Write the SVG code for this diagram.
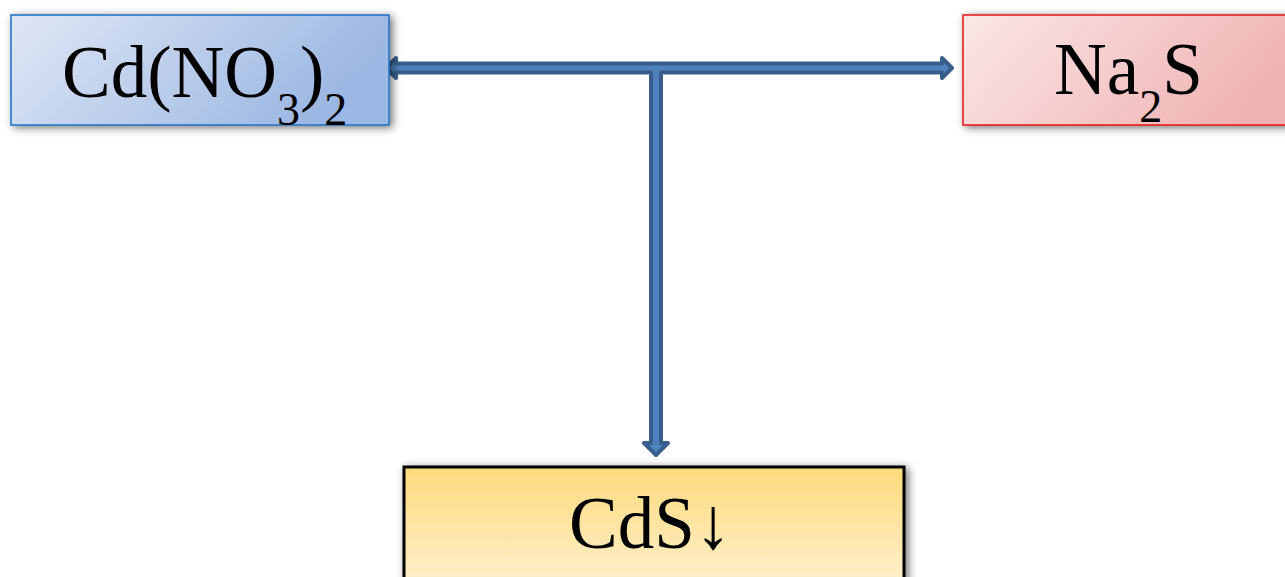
<svg xmlns="http://www.w3.org/2000/svg" width="1285" height="577" viewBox="0 0 1285 577">
<style>
.lbl{font-family:"Liberation Serif","Times New Roman",serif;font-size:73px;fill:#000}
.sub{font-size:46px}
.box{filter:url(#sh)}
</style>
<defs>
<filter id="sh" x="-10%" y="-20%" width="125%" height="150%">
<feDropShadow dx="3" dy="2" stdDeviation="4" flood-color="#000" flood-opacity="0.55"/>
</filter>
<linearGradient id="gBlue" x1="0" y1="0" x2="1" y2="0.3">
<stop offset="0" stop-color="#dfe7f5"/><stop offset="1" stop-color="#9cb7e3"/>
</linearGradient>
<linearGradient id="gRed" x1="0" y1="0" x2="1" y2="0.3">
<stop offset="0" stop-color="#fbe7e7"/><stop offset="1" stop-color="#f0b3b3"/>
</linearGradient>
<linearGradient id="gYel" x1="0" y1="0" x2="0" y2="1">
<stop offset="0" stop-color="#fdda7c"/><stop offset="1" stop-color="#fef2d4"/>
</linearGradient>
</defs>
<g id="connectors">
<path d="M386,68 L396,58 L396,63.5 L942,63.5 L942,58 L952,68 L942,78 L942,72.5 L661,72.5 L661,443 L668,443 L656,455 L644,443 L651,443 L651,72.5 L396,72.5 L396,78 Z" fill="#4f81bd" stroke="#3a5e8c" stroke-width="4" stroke-linejoin="round"/>
</g>
<g id="node-cdno3">
<rect class="box" x="11" y="15" width="378" height="110" fill="url(#gBlue)" stroke="#1a6fc4" stroke-width="1.5"/>
<text class="lbl" x="62" y="97">Cd(NO<tspan class="sub" dy="28">3</tspan><tspan dy="-28">)</tspan><tspan class="sub" dy="28">2</tspan></text>
</g>
<g id="node-na2s">
<rect class="box" x="963" y="15" width="340" height="110" fill="url(#gRed)" stroke="#e81414" stroke-width="1.5"/>
<text class="lbl" x="1054" y="94">Na<tspan class="sub" dy="28">2</tspan><tspan dy="-28">S</tspan></text>
</g>
<g id="node-cds">
<rect class="box" x="404" y="467" width="500" height="130" fill="url(#gYel)" stroke="#000" stroke-width="3"/>
<text class="lbl" x="569" y="548">CdS↓</text>
</g>
</svg>
